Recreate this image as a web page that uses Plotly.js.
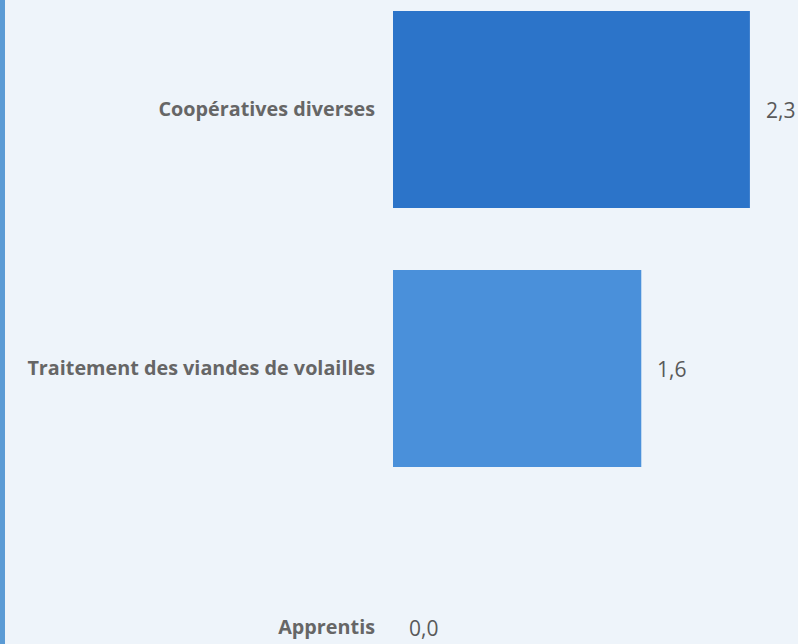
<!DOCTYPE html>
<html><head><meta charset="utf-8">
<script src="https://cdn.plot.ly/plotly-3.0.1.min.js"></script>
<style>
html,body{margin:0;padding:0;background:#EEF4FA;}
#wrap{position:relative;width:798px;height:644px;}
#chart{width:798px;height:644px;}
#stripe{position:absolute;left:0;top:0;width:5px;height:644px;background:#5B9BD5;}
</style></head>
<body><div id="wrap"><div id="chart"></div><div id="stripe"></div></div>
<script>
const categories = ["Coopératives diverses", "Traitement des viandes de volailles", "Apprentis"];
const values = [2.3, 1.6, 0.0];
const barColors = ["#2C74C9", "#4A90DA", "#4A90DA"];

const trace = {
  type: "bar", orientation: "h",
  x: values, y: categories,
  marker: {color: barColors},
  width: 0.76, hoverinfo: "none"
};
const annotations = categories.map((c, i) => ({
  x: values[i], y: c, xref: "x", yref: "y",
  text: values[i].toFixed(1).replace(".", ","),
  showarrow: false, xanchor: "left", yanchor: "middle", xshift: 14, yshift: 0,
  font: {family: "Open Sans", size: 21, color: "#595959"}
}));
const layout = {
  width: 798, height: 644,
  margin: {l: 393, r: 0, t: 0, b: 0, pad: 0},
  paper_bgcolor: "#EEF4FA", plot_bgcolor: "#EEF4FA",
  showlegend: false,
  xaxis: {range: [0, 2.61], visible: false, fixedrange: true},
  yaxis: {
    type: "category", range: [2.0637, -0.4228], showgrid: false, zeroline: false,
    showline: false, ticks: "", ticklabelstandoff: 17,
    tickfont: {family: "Open Sans", size: 19.8, color: "#666666", weight: "bold"}
  },
  annotations: annotations
};
Plotly.newPlot("chart", [trace], layout, {displayModeBar: false, staticPlot: true});
</script></body></html>
